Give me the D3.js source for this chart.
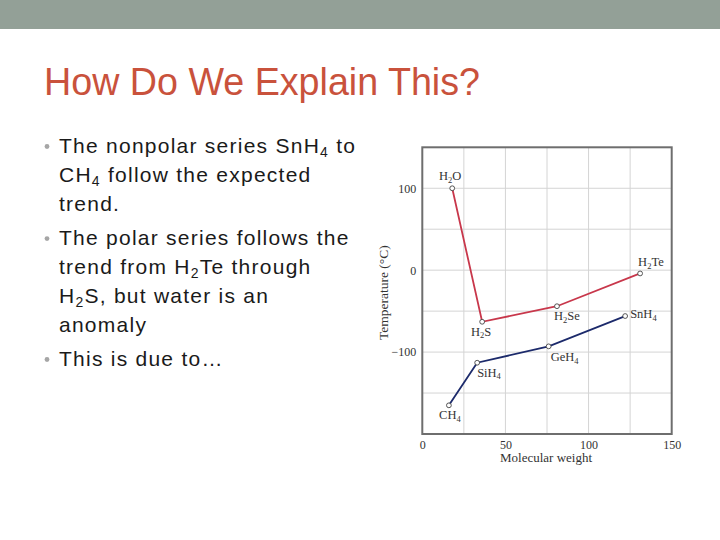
<!DOCTYPE html>
<html>
<head>
<meta charset="utf-8">
<script src="https://cdn.jsdelivr.net/npm/d3@7/dist/d3.min.js"></script>
<style>
  html, body { margin: 0; padding: 0; background: #fff; }
  svg { display: block; }
</style>
</head>
<body>
<svg id="slide" width="720" height="540"></svg>
<script>
// ---------- data ----------
const titleText = "How Do We Explain This?";
const bullets = [
  ["The nonpolar series SnH_4 to", "CH_4 follow the expected", "trend."],
  ["The polar series follows the", "trend from H_2Te through", "H_2S, but water is an", "anomaly"],
  ["This is due to\u2026"]
];

const polarNames = ["H_2O", "H_2S", "H_2Se", "H_2Te"];
const polarMW = [18, 36, 81, 131];
const polarBP = [100, -63, -44, -4];

const nonpolarNames = ["CH_4", "SiH_4", "GeH_4", "SnH_4"];
const nonpolarMW = [16, 33, 76, 122];
const nonpolarBP = [-165, -113, -93, -56];

const xTickValues = [0, 50, 100, 150];
const yTickValues = [100, 0, -100];
const xGridValues = [25, 50, 75, 100, 125];
const yGridValues = [100, 50, 0, -50, -100, -150];
const xTitle = "Molecular weight";
const yTitle = "Temperature (\u00B0C)";

// ---------- helpers ----------
function rich(sel, str, subSize, shift) {
  const parts = str.split(/(_\d)/).filter(s => s.length);
  let pending = 0;
  parts.forEach(p => {
    if (p[0] === "_") {
      sel.append("tspan").attr("font-size", subSize).attr("dy", shift + pending).text(p.slice(1));
      pending = -shift;
    } else {
      const ts = sel.append("tspan").text(p);
      if (pending) ts.attr("dy", pending);
      pending = 0;
    }
  });
}

const svg = d3.select("#slide");

// ---------- slide chrome ----------
svg.append("rect").attr("x", 0).attr("y", 0).attr("width", 720).attr("height", 29).attr("fill", "#93a097");

svg.append("text")
  .attr("x", 44).attr("y", 95)
  .attr("font-family", "'Liberation Sans', Arial, sans-serif")
  .attr("font-size", 38)
  .attr("fill", "#c9523c")
  .attr("textLength", 436)
  .attr("lengthAdjust", "spacingAndGlyphs")
  .text(titleText);

// bullets
let yb = 153;
const lineH = 28.8, bulletGap = 34.5;
bullets.forEach((lines, bi) => {
  svg.append("circle").attr("cx", 47).attr("cy", yb - 6.5).attr("r", 2.4).attr("fill", "#a6a6a6");
  lines.forEach((ln, li) => {
    const t = svg.append("text")
      .attr("x", 59).attr("y", yb)
      .attr("font-family", "'Liberation Sans', Arial, sans-serif")
      .attr("font-size", 21)
      .attr("letter-spacing", 1.25)
      .attr("fill", "#1a1a1a");
    rich(t, ln, 14, 4);
    if (li < lines.length - 1) yb += lineH;
  });
  yb += bulletGap;
});

// ---------- chart ----------
const L = 422.3, R = 671.7, T = 147.3, B = 434;
const x = d3.scaleLinear().domain([0, 150]).range([L, R]);
const y = d3.scaleLinear().domain([-200, 150]).range([B, T]);
const serif = "'Liberation Serif', 'DejaVu Serif', serif";

const g = svg.append("g");

// grid
g.selectAll(".vg").data(xGridValues).enter().append("line")
  .attr("x1", d => x(d)).attr("x2", d => x(d)).attr("y1", T).attr("y2", B)
  .attr("stroke", "#d4d4d4").attr("stroke-width", 1);
g.selectAll(".hg").data(yGridValues).enter().append("line")
  .attr("x1", L).attr("x2", R).attr("y1", d => y(d)).attr("y2", d => y(d))
  .attr("stroke", "#d4d4d4").attr("stroke-width", 1);

// frame
g.append("rect").attr("x", L).attr("y", T).attr("width", R - L).attr("height", B - T)
  .attr("fill", "none").attr("stroke", "#6e6e6e").attr("stroke-width", 2);

// axes (text only, via d3 axes)
const xAxis = d3.axisBottom(x).tickValues(xTickValues).tickSize(0).tickPadding(5).tickFormat(d3.format("d"));
const xa = g.append("g").attr("transform", `translate(0,${B + 1})`).call(xAxis);
xa.select(".domain").remove();
xa.selectAll("text").attr("font-family", serif).attr("font-size", 12).attr("fill", "#333");

const yAxis = d3.axisLeft(y).tickValues(yTickValues).tickSize(0).tickPadding(5)
  .tickFormat(d => d < 0 ? "\u2212" + Math.abs(d) : String(d));
const ya = g.append("g").attr("transform", `translate(${L - 1},0)`).call(yAxis);
ya.select(".domain").remove();
ya.selectAll("text").attr("font-family", serif).attr("font-size", 12).attr("fill", "#333");

// axis titles
g.append("text").attr("x", (L + R) / 2 - 1).attr("y", 462)
  .attr("text-anchor", "middle").attr("font-family", serif).attr("font-size", 13).attr("fill", "#333")
  .text(xTitle);
g.append("text").attr("transform", `translate(388,${(T + B) / 2 + 2}) rotate(-90)`)
  .attr("text-anchor", "middle").attr("font-family", serif).attr("font-size", 13.5).attr("fill", "#333")
  .text(yTitle);

// series
const polar = polarNames.map((n, i) => ({ name: n, mw: polarMW[i], bp: polarBP[i] }));
const nonpolar = nonpolarNames.map((n, i) => ({ name: n, mw: nonpolarMW[i], bp: nonpolarBP[i] }));
const line = d3.line().x(d => x(d.mw)).y(d => y(d.bp));

g.append("path").datum(polar).attr("d", line).attr("fill", "none")
  .attr("stroke", "#c8374b").attr("stroke-width", 1.8);
g.append("path").datum(nonpolar).attr("d", line).attr("fill", "none")
  .attr("stroke", "#1c2a6b").attr("stroke-width", 1.8);

[polar, nonpolar].forEach(series => {
  g.selectAll(null).data(series).enter().append("circle")
    .attr("cx", d => x(d.mw)).attr("cy", d => y(d.bp)).attr("r", 2.4)
    .attr("fill", "#fff").attr("stroke", "#444").attr("stroke-width", 0.9);
});

// label placement (style, not data)
const place = {
  "H_2O":  { dx: -2, dy: -8,  a: "middle" },
  "H_2S":  { dx: -1, dy: 14,  a: "middle" },
  "H_2Se": { dx: -3, dy: 14,  a: "start" },
  "H_2Te": { dx: -2, dy: -7,  a: "start" },
  "CH_4":  { dx: 1,  dy: 14,  a: "middle" },
  "SiH_4": { dx: 0,  dy: 14,  a: "start" },
  "GeH_4": { dx: 2,  dy: 15,  a: "start" },
  "SnH_4": { dx: 5,  dy: 2,   a: "start" }
};
polar.concat(nonpolar).forEach(d => {
  const p = place[d.name];
  const t = g.append("text")
    .attr("x", x(d.mw) + p.dx).attr("y", y(d.bp) + p.dy)
    .attr("text-anchor", p.a)
    .attr("font-family", serif).attr("font-size", 12.5).attr("fill", "#333");
  rich(t, d.name, 8.5, 2.5);
});
</script>
</body>
</html>
